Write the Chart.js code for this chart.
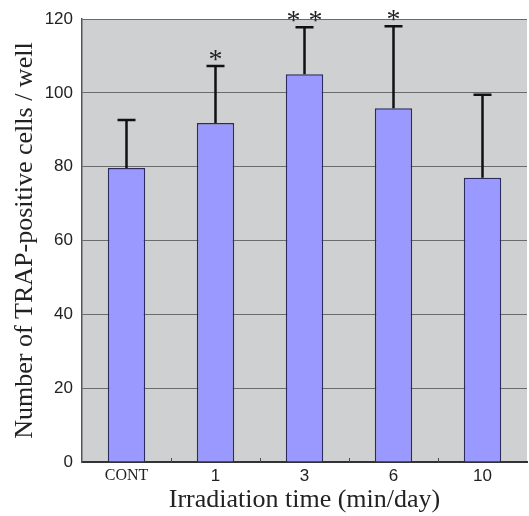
<!DOCTYPE html>
<html>
<head>
<meta charset="utf-8">
<script src="https://cdn.jsdelivr.net/npm/chart.js@4/dist/chart.umd.min.js"></script>
<style>
  html, body { margin: 0; padding: 0; background: #fff; }
  #wrap { width: 529px; height: 516px; position: relative; }
</style>
</head>
<body>
<div id="wrap"><canvas id="trapChart"></canvas></div>
<script>
// values
const categories = ['CONT', '1', '3', '6', '10'];
const means = [79.7, 91.9, 105.1, 95.9, 77.0];
const sds = [13.0, 15.4, 12.7, 22.2, 22.5];
const marks = ['', '*', '**', '*', ''];
const yTicks = [0, 20, 40, 60, 80, 100, 120];

const serif = "'Liberation Serif', 'Times New Roman', serif";
const sans = "'Liberation Sans', Arial, sans-serif";

// grey plot background
const plotBackground = {
    id: 'plotBackground',
    beforeDraw(chart) {
        const { ctx, chartArea: a } = chart;
        ctx.save();
        ctx.fillStyle = '#cfd0d1';
        ctx.fillRect(a.left, a.top, a.right - a.left, a.bottom - a.top);
        ctx.restore();
    }
};

// upper error bars, significance stars and the small inner ticks on the x axis
const errorBars = {
    id: 'errorBars',
    afterDatasetsDraw(chart) {
        const { ctx, scales: { x, y }, chartArea: a } = chart;
        ctx.save();

        ctx.strokeStyle = '#4a4a4a';
        ctx.lineWidth = 1;
        for (let i = 1; i < categories.length; i++) {
            const px = Math.round((x.getPixelForValue(i - 1) + x.getPixelForValue(i)) / 2) + 0.5;
            ctx.beginPath();
            ctx.moveTo(px, a.bottom);
            ctx.lineTo(px, a.bottom - 4);
            ctx.stroke();
        }

        ctx.strokeStyle = '#111';
        ctx.lineWidth = 2.5;
        means.forEach((m, i) => {
            const cx = x.getPixelForValue(i);
            const y0 = y.getPixelForValue(m);
            const y1 = y.getPixelForValue(m + sds[i]);
            ctx.beginPath();
            ctx.moveTo(cx, y0);
            ctx.lineTo(cx, y1);
            ctx.moveTo(cx - 9, y1);
            ctx.lineTo(cx + 9, y1);
            ctx.stroke();

            if (marks[i]) {
                ctx.fillStyle = '#222';
                ctx.font = '28px ' + serif;
                ctx.textAlign = 'center';
                ctx.textBaseline = 'alphabetic';
                const base = y1 - 11 + 13;
                if (marks[i].length === 1) {
                    ctx.fillText('*', cx, base);
                } else {
                    ctx.fillText('*', cx - 11, base);
                    ctx.fillText('*', cx + 11, base);
                }
            }
        });
        ctx.restore();
    }
};

function createTrapChart() {
    const ctx = document.getElementById('trapChart');
    if (!ctx) return;

    new Chart(ctx, {
        type: 'bar',
        data: {
            labels: categories,
            datasets: [{
                data: means,
                backgroundColor: '#9999ff',
                borderColor: '#2b2b5e',
                borderWidth: 1.5,
                barPercentage: 0.42,
                categoryPercentage: 1
            }]
        },
        options: {
            responsive: true,
            maintainAspectRatio: false,
            animation: false,
            layout: { padding: { top: 18, right: 2, left: 0, bottom: 0 } },
            plugins: {
                legend: { display: false },
                tooltip: { enabled: false }
            },
            scales: {
                x: {
                    offset: true,
                    grid: { display: false, drawTicks: false },
                    border: { display: true, color: '#333', width: 2 },
                    ticks: {
                        padding: 4,
                        color: '#222',
                        font: (c) => c.index === 0
                            ? { family: serif, size: 16 }
                            : { family: sans, size: 17 }
                    },
                    title: {
                        display: true,
                        text: 'Irradiation time (min/day)',
                        color: '#222',
                        font: { family: serif, size: 26 },
                        padding: { top: 0, bottom: 0 }
                    },
                    afterFit(scale) { scale.height = 54; }
                },
                y: {
                    min: 0,
                    max: 120,
                    afterBuildTicks(scale) {
                        scale.ticks = yTicks.map(v => ({ value: v }));
                    },
                    grid: { color: '#6b6b6b', lineWidth: 1, drawTicks: false },
                    border: { display: true, color: '#555', width: 1.5 },
                    ticks: {
                        padding: 9,
                        color: '#222',
                        font: { family: sans, size: 17 }
                    },
                    title: {
                        display: true,
                        text: 'Number of TRAP-positive cells / well',
                        color: '#222',
                        font: { family: serif, size: 26 },
                        padding: { top: 10, bottom: 0 }
                    },
                    afterFit(scale) { scale.width = 82; }
                }
            }
        },
        plugins: [plotBackground, errorBars]
    });
}

document.addEventListener('DOMContentLoaded', () => {
    createTrapChart();
});
</script>
</body>
</html>
